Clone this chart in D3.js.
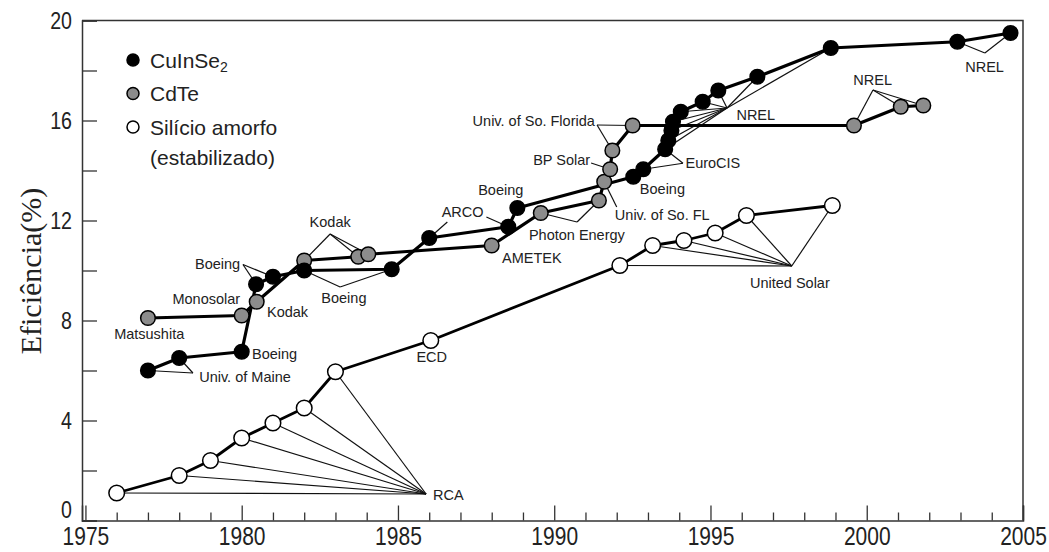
<!DOCTYPE html>
<html>
<head>
<meta charset="utf-8">
<script src="https://cdn.jsdelivr.net/npm/d3@7/dist/d3.min.js"></script>
<style>
  html, body { margin: 0; padding: 0; background: #fff; }
  svg { display: block; }
  .tick text { font-family: "Liberation Sans", Arial, sans-serif; fill: #222; }
  .note { font-family: "Liberation Sans", Arial, sans-serif; font-size: 14.5px; fill: #222; }
  .legend text { font-family: "Liberation Sans", Arial, sans-serif; font-size: 21px; fill: #222; }
</style>
</head>
<body>
<svg id="chart" width="1049" height="552"></svg>
<script>
// Conversion efficiency records of thin-film cells (%), by year

// CuInSe2
const cisYears = [1977.0, 1978.0, 1980.0, 1980.46, 1981.0, 1982.0, 1984.8, 1986.0, 1988.53, 1988.82,
                  1992.53, 1992.85, 1993.55, 1993.65, 1993.75, 1993.8, 1994.05, 1994.75, 1995.25,
                  1996.5, 1998.85, 2002.9, 2004.6];
const cisEff   = [6.0, 6.5, 6.75, 9.45, 9.75, 10.0, 10.05, 11.3, 11.75, 12.5,
                  13.75, 14.05, 14.85, 15.2, 15.6, 15.95, 16.35, 16.75, 17.2,
                  17.75, 18.9, 19.15, 19.5];

// CdTe
const cdteYears = [1977.0, 1980.0, 1980.48, 1982.0, 1983.73, 1984.05, 1988.0, 1989.57, 1991.43,
                   1991.6, 1991.79, 1991.86, 1992.51, 1999.59, 2001.09, 2001.81];
const cdteEff   = [8.1, 8.2, 8.75, 10.4, 10.55, 10.65, 11.0, 12.3, 12.8,
                   13.55, 14.05, 14.8, 15.8, 15.8, 16.55, 16.6];

// Amorphous silicon (stabilised)
const asiYears = [1976.0, 1978.0, 1979.0, 1980.0, 1981.0, 1982.0, 1983.0, 1986.05,
                  1992.1, 1993.15, 1994.15, 1995.15, 1996.15, 1998.9];
const asiEff   = [1.1, 1.8, 2.4, 3.3, 3.9, 4.5, 5.95, 7.2,
                  10.2, 11.0, 11.2, 11.5, 12.2, 12.6];

// Axis ticks
const yTicks = [0, 2, 4, 6, 8, 10, 12, 14, 16, 18, 20];
const yLabels = [0, 4, 8, 12, 16, 20];
const xMajor = [1975, 1980, 1985, 1990, 1995, 2000, 2005];
const xMinor = d3.range(1976, 2005).filter(v => v % 5 !== 0);

// Legend entries
const legendNames = ["CuInSe", "CdTe", "Silício amorfo"];

// Laboratory / company labels: text placed at (year, eff)
const noteText  = ["Univ. of Maine", "Boeing", "Matsushita", "Monosolar", "Kodak", "Boeing",
                   "Kodak", "Boeing", "ARCO", "Boeing", "AMETEK", "Photon Energy",
                   "Univ. of So. FL", "BP Solar", "Univ. of So. Florida", "Boeing", "EuroCIS",
                   "NREL", "NREL", "NREL", "ECD", "RCA", "United Solar"];
const noteYear  = [1978.64, 1980.33, 1977.04, 1979.95, 1980.81, 1979.95,
                   1982.83, 1983.27, 1987.74, 1988.29, 1988.33, 1989.19,
                   1991.94, 1991.15, 1991.3, 1992.74, 1994.2,
                   1995.83, 2000.19, 2003.77, 1986.08, 1986.12, 1997.54];
const noteEff   = [5.76, 6.68, 7.46, 8.88, 8.36, 10.28,
                   11.94, 8.9, 12.36, 13.24, 10.52, 11.44,
                   12.22, 14.42, 16.0, 13.28, 14.29,
                   16.22, 17.62, 18.14, 6.56, 1.04, 9.5];
const noteAnchor = ["start", "start", "middle", "end", "start", "end",
                    "middle", "middle", "end", "middle", "start", "start",
                    "start", "end", "end", "start", "start",
                    "start", "middle", "middle", "middle", "start", "middle"];

// Leader lines: from a hub (year, eff) to each listed point of a series
const leaders = [
  { hub: [1978.44, 5.9],   series: "cis",  idx: [0, 1] },
  { hub: [1980.04, 10.24], series: "cis",  idx: [3, 4] },
  { hub: [1982.83, 11.46], series: "cdte", idx: [3, 4, 5] },
  { hub: [1983.15, 9.34],  series: "cis",  idx: [5, 6] },
  { hub: [1987.83, 12.14], series: "cis",  idx: [8] },
  { hub: [1986.58, 11.94], series: "cis",  idx: [7] },
  { hub: [1990.73, 11.94], series: "cdte", idx: [7, 8] },
  { hub: [1992.0, 12.54],  series: "cdte", idx: [9] },
  { hub: [1991.18, 14.3],  series: "cdte", idx: [10] },
  { hub: [1991.37, 15.82], series: "cdte", idx: [11, 12] },
  { hub: [1994.12, 14.29], series: "cis",  idx: [11, 12] },
  { hub: [1995.53, 16.5],  series: "cis",  idx: [12, 13, 14, 15, 16, 17, 18, 19, 20] },
  { hub: [2000.2, 17.22],  series: "cdte", idx: [13, 14, 15] },
  { hub: [2003.78, 18.7],  series: "cis",  idx: [21, 22] },
  { hub: [1985.9, 1.06],   series: "asi",  idx: [0, 1, 2, 3, 4, 5, 6] },
  { hub: [1997.6, 10.18],  series: "asi",  idx: [8, 9, 10, 11, 12, 13] }
];

const svg = d3.select("#chart");
const x = d3.scaleLinear().domain([1974.89, 2005]).range([82, 1023]);
const y = d3.scaleLinear().domain([0, 20]).range([520.5, 20.5]);

const series = {
  cis:  cisYears.map((t, i) => [t, cisEff[i]]),
  cdte: cdteYears.map((t, i) => [t, cdteEff[i]]),
  asi:  asiYears.map((t, i) => [t, asiEff[i]])
};

// frame (top and right sides)
svg.append("path")
  .attr("d", `M${x(1974.89)},${y(20)}H${x(2005)}V${y(0)}`)
  .attr("fill", "none").attr("stroke", "#333").attr("stroke-width", 1.5);

// y axis
const yAxis = svg.append("g").attr("transform", `translate(${x(1974.89)},0)`)
  .call(d3.axisLeft(y).tickValues(yTicks).tickSize(-15).tickPadding(10)
    .tickFormat(d => yLabels.includes(d) ? d : ""));
yAxis.select(".domain").attr("stroke", "#333").attr("stroke-width", 1.5);
yAxis.selectAll(".tick line").attr("stroke", "#333").attr("stroke-width", 1.3);
yAxis.selectAll(".tick text").style("font-size", "23px")
  .attr("dy", d => d === 0 ? "-0.12em" : "0.36em")
  .filter(d => yLabels.includes(d))
  .attr("textLength", d => String(d).length * 10.9)
  .attr("lengthAdjust", "spacingAndGlyphs");

// x axis: major and minor ticks (labels condensed horizontally)
const xAxis = svg.append("g").attr("transform", `translate(0,${y(0)})`)
  .call(d3.axisBottom(x).tickValues(xMajor).tickSize(-15).tickPadding(12).tickFormat(d3.format("d")));
xAxis.select(".domain").attr("stroke", "#333").attr("stroke-width", 1.5);
xAxis.selectAll(".tick line").attr("stroke", "#333").attr("stroke-width", 1.3);
xAxis.selectAll(".tick text").style("font-size", "25px")
  .attr("y", 24.5).attr("dy", 0)
  .attr("transform", "scale(0.84,1)");

const xMinorAxis = svg.append("g").attr("transform", `translate(0,${y(0)})`)
  .call(d3.axisBottom(x).tickValues(xMinor).tickSize(-8).tickFormat(""));
xMinorAxis.select(".domain").remove();
xMinorAxis.selectAll(".tick line").attr("stroke", "#333").attr("stroke-width", 1.3);

// y axis title
svg.append("text")
  .attr("transform", `translate(41,271) rotate(-90)`)
  .attr("text-anchor", "middle")
  .style("font-family", "'Liberation Serif', 'Times New Roman', serif")
  .style("font-size", "30px").style("fill", "#222")
  .text("Eficiência(%)");

// leader lines (thin)
const gLead = svg.append("g").attr("stroke", "#111").attr("stroke-width", 1.2).attr("fill", "none");
leaders.forEach(l => {
  l.idx.forEach(i => {
    const p = series[l.series][i];
    gLead.append("line")
      .attr("x1", x(l.hub[0])).attr("y1", y(l.hub[1]))
      .attr("x2", x(p[0])).attr("y2", y(p[1]));
  });
});

// series lines
const line = d3.line().x(d => x(d[0])).y(d => y(d[1]));
["asi", "cdte", "cis"].forEach(k => {
  svg.append("path").datum(series[k])
    .attr("d", line).attr("fill", "none")
    .attr("stroke", "#000").attr("stroke-width", k === "asi" ? 2.8 : 3.2)
    .attr("stroke-linejoin", "round");
});

// markers
const fills = { cis: "#000", cdte: "#8c8c8c", asi: "#fff" };
["asi", "cdte", "cis"].forEach(k => {
  svg.append("g").selectAll("circle").data(series[k]).join("circle")
    .attr("cx", d => x(d[0])).attr("cy", d => y(d[1]))
    .attr("r", k === "asi" ? 7.8 : 7.3)
    .attr("fill", fills[k]).attr("stroke", "#000").attr("stroke-width", 1.5);
});

// labels
svg.append("g").selectAll("text").data(noteText).join("text")
  .attr("class", "note")
  .attr("x", (d, i) => x(noteYear[i])).attr("y", (d, i) => y(noteEff[i]))
  .attr("dy", "0.35em")
  .attr("text-anchor", (d, i) => noteAnchor[i])
  .text(d => d);

// legend
const lg = svg.append("g").attr("class", "legend");
const lgFill = ["#000", "#8c8c8c", "#fff"];
legendNames.forEach((name, i) => {
  const cy = 60 + i * 33.5;
  lg.append("circle").attr("cx", 133).attr("cy", cy).attr("r", 6)
    .attr("fill", lgFill[i]).attr("stroke", "#000").attr("stroke-width", 1.5);
  const t = lg.append("text").attr("x", 150).attr("y", cy).attr("dy", "0.36em").text(name);
  if (i === 0) t.append("tspan").attr("dy", "0.35em").style("font-size", "14px").text("2");
});
lg.append("text").attr("x", 150).attr("y", 157).attr("dy", "0.36em").text("(estabilizado)");
</script>
</body>
</html>
